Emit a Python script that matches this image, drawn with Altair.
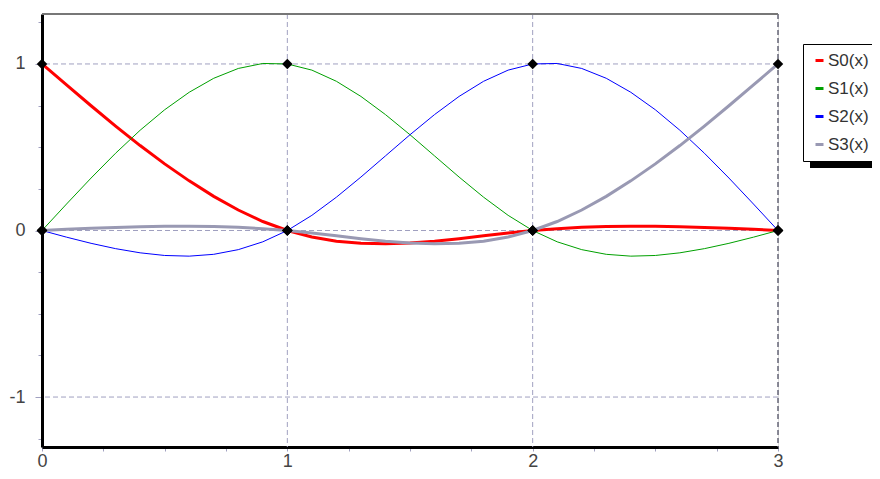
import altair as alt
import pandas as pd

# x sample positions
x_vals = [0.0, 0.1, 0.2, 0.3, 0.4, 0.5, 0.6, 0.7, 0.8, 0.9,
          1.0, 1.1, 1.2, 1.3, 1.4, 1.5, 1.6, 1.7, 1.8, 1.9,
          2.0, 2.1, 2.2, 2.3, 2.4, 2.5, 2.6, 2.7, 2.8, 2.9, 3.0]

s0 = [1.0, 0.874, 0.749, 0.627, 0.510, 0.400, 0.298, 0.205, 0.123, 0.054,
      0.0, -0.039, -0.064, -0.077, -0.080, -0.075, -0.064, -0.049, -0.032, -0.015,
      0.0, 0.011, 0.019, 0.024, 0.026, 0.025, 0.022, 0.018, 0.013, 0.007, 0.0]
s1 = [0.0, 0.159, 0.315, 0.464, 0.602, 0.725, 0.830, 0.914, 0.973, 1.003,
      1.0, 0.963, 0.896, 0.805, 0.696, 0.575, 0.448, 0.321, 0.200, 0.091,
      0.0, -0.068, -0.115, -0.143, -0.154, -0.150, -0.134, -0.109, -0.077, -0.040, 0.0]
s2 = [0.0, -0.040, -0.077, -0.109, -0.134, -0.150, -0.154, -0.143, -0.115, -0.068,
      0.0, 0.091, 0.200, 0.321, 0.448, 0.575, 0.696, 0.805, 0.896, 0.963,
      1.0, 1.003, 0.973, 0.914, 0.830, 0.725, 0.602, 0.464, 0.315, 0.159, 0.0]
s3 = [0.0, 0.007, 0.013, 0.018, 0.022, 0.025, 0.026, 0.024, 0.019, 0.011,
      0.0, -0.015, -0.032, -0.049, -0.064, -0.075, -0.080, -0.077, -0.064, -0.039,
      0.0, 0.054, 0.123, 0.205, 0.298, 0.400, 0.510, 0.627, 0.749, 0.874, 1.0]

series_names = ["S0(x)", "S1(x)", "S2(x)", "S3(x)"]
series_colors = ["#ff0000", "#00a000", "#0000ff", "#9999b3"]
thick_series = ["S0(x)", "S3(x)"]

knot_x = [0, 1, 2, 3]
knot_s0 = [1, 0, 0, 0]
knot_s1 = [0, 1, 0, 0]
knot_s2 = [0, 0, 1, 0]
knot_s3 = [0, 0, 0, 1]

x_ticks = [0, 0.25, 0.5, 0.75, 1, 1.25, 1.5, 1.75, 2, 2.25, 2.5, 2.75, 3]
y_ticks = [-1.25, -1, -0.75, -0.5, -0.25, 0, 0.25, 0.5, 0.75, 1, 1.25]
y_grid = [-1, 0, 1]
x_grid = [1, 2]
x_border = [3]
x_domain = [0, 3]
y_domain = [-1.3, 1.3]

rows = []
for name, vals in zip(series_names, [s0, s1, s2, s3]):
    for xv, yv in zip(x_vals, vals):
        rows.append({"x": xv, "y": yv, "series": name})
curves = pd.DataFrame(rows)

krows = []
for name, vals in zip(series_names, [knot_s0, knot_s1, knot_s2, knot_s3]):
    for xv, yv in zip(knot_x, vals):
        krows.append({"x": xv, "y": yv, "series": name})
knots = pd.DataFrame(krows)

FONT = "Liberation Sans"
GRID = "#a0a0c0"

xscale = alt.Scale(domain=x_domain, nice=False, zero=False)
yscale = alt.Scale(domain=y_domain, nice=False, zero=False)

x_axis = alt.Axis(values=x_ticks, grid=False, domainColor="black", domainWidth=3,
                  tickColor=GRID, tickSize=4, tickWidth=1,
                  labelExpr="datum.value % 1 === 0 ? toString(datum.value) : ''",
                  labelFont=FONT, labelFontSize=18, labelColor="#444",
                  labelPadding=1, title=None, labelFlush=False)
y_axis = alt.Axis(values=y_ticks, grid=False, domainColor="black", domainWidth=3,
                  tickColor=GRID,
                  tickSize={"condition": {"test": "datum.value % 1 === 0", "value": 7}, "value": 4},
                  tickWidth=1,
                  labelExpr="datum.value % 1 === 0 ? toString(datum.value) : ''",
                  labelFont=FONT, labelFontSize=18, labelColor="#444",
                  labelPadding=10, title=None)

hgrid = alt.Chart(pd.DataFrame({"y": y_grid})).mark_rule(
    color=GRID, strokeDash=[5, 3], strokeWidth=1
).encode(y=alt.Y("y:Q", scale=yscale, axis=y_axis))

vgrid = alt.Chart(pd.DataFrame({"x": x_grid})).mark_rule(
    color=GRID, strokeDash=[5, 3], strokeWidth=1
).encode(x=alt.X("x:Q", scale=xscale, axis=x_axis))

vborder = alt.Chart(pd.DataFrame({"x": x_border})).mark_rule(
    color="#666677", strokeDash=[5, 3], strokeWidth=1.5
).encode(x=alt.X("x:Q", scale=xscale))

top_border = alt.Chart(pd.DataFrame({"x": [x_domain[0]], "x2": [x_domain[1]], "y": [y_domain[1]]})).mark_rule(
    color="#777777", strokeWidth=2
).encode(x=alt.X("x:Q", scale=xscale), x2="x2:Q", y=alt.Y("y:Q", scale=yscale))

shadow = alt.Chart(pd.DataFrame({"a": [0]})).mark_rect(color="black").encode(
    x=alt.value(768), x2=alt.value(900), y=alt.value(36), y2=alt.value(154)
)

thick_test = " || ".join(f"datum.series === '{s}'" for s in thick_series)

lines = alt.Chart(curves).mark_line(clip=False).encode(
    x=alt.X("x:Q", scale=xscale),
    y=alt.Y("y:Q", scale=yscale),
    color=alt.Color("series:N",
                    scale=alt.Scale(domain=series_names, range=series_colors),
                    legend=alt.Legend(title=None, orient="none", legendX=761, legendY=30,
                                      fillColor="white", strokeColor="black",
                                      padding=8, rowPadding=10, labelFontSize=17,
                                      labelFont=FONT, labelColor="#333",
                                      symbolType="stroke", symbolSize=64,
                                      symbolStrokeWidth=3, labelOffset=0, cornerRadius=0)),
    strokeWidth=alt.condition(thick_test, alt.value(3), alt.value(1)),
)

points = alt.Chart(knots).mark_point(shape="diamond", filled=True, color="black",
                                     size=110, opacity=1).encode(
    x=alt.X("x:Q", scale=xscale),
    y=alt.Y("y:Q", scale=yscale),
)

chart = alt.layer(hgrid, vgrid, vborder, top_border, shadow, lines, points).properties(
    width=736, height=433,
    autosize=alt.AutoSizeParams(type="none"),
    padding={"left": 34, "top": 6, "right": 94, "bottom": 24},
).configure_view(stroke=None).configure(background="white")

chart.save("out.html", embed_options={"renderer": "svg", "actions": False})
